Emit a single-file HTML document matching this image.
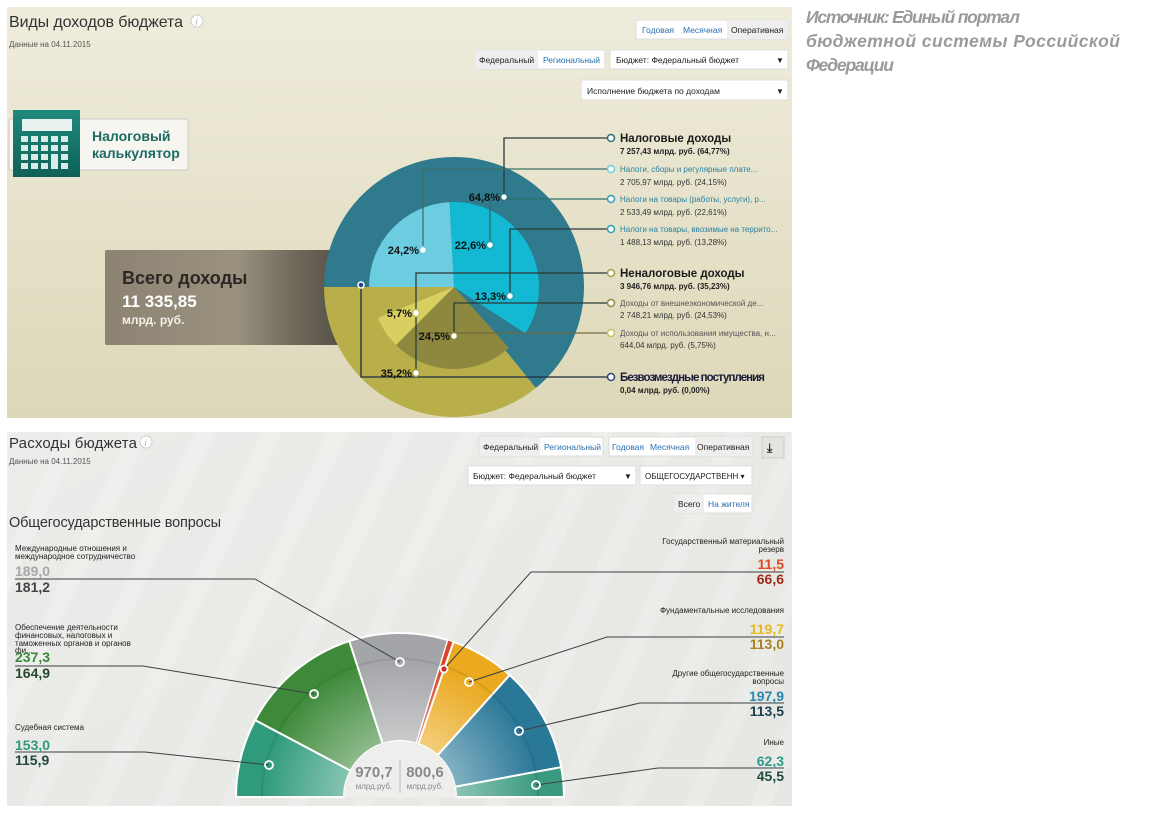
<!DOCTYPE html>
<html><head><meta charset="utf-8"><style>
html,body{margin:0;padding:0;background:#fff;}
svg{display:block;font-family:"Liberation Sans Narrow","Liberation Sans",sans-serif;}
</style></head><body>
<svg width="1153" height="816" viewBox="0 0 1153 816" xmlns="http://www.w3.org/2000/svg">
<defs>
<linearGradient id="bgTop" x1="0" y1="0" x2="0" y2="1"><stop offset="0" stop-color="#efecdc"/><stop offset="1" stop-color="#ddd8b8"/></linearGradient>
<linearGradient id="bgBot" x1="0" y1="0" x2="1" y2="1"><stop offset="0" stop-color="#ececea"/><stop offset="1" stop-color="#e6e7e2"/></linearGradient>
<pattern id="stripes" width="60" height="60" patternUnits="userSpaceOnUse" patternTransform="rotate(25)"><rect width="18" height="60" fill="#ffffff" opacity="0.18"/></pattern>
<linearGradient id="totBox" x1="0" y1="0" x2="1" y2="0"><stop offset="0" stop-color="#8c8373"/><stop offset="0.55" stop-color="#9a917f"/><stop offset="0.8" stop-color="#6e6759"/><stop offset="1" stop-color="#555046"/></linearGradient>
<linearGradient id="calc" x1="0" y1="0" x2="0" y2="1"><stop offset="0" stop-color="#1f8a7c"/><stop offset="1" stop-color="#0f6057"/></linearGradient>
<radialGradient id="hubG" cx="400" cy="797" r="164" gradientUnits="userSpaceOnUse"><stop offset="0.3" stop-color="#fff" stop-opacity="0.45"/><stop offset="0.85" stop-color="#fff" stop-opacity="0"/></radialGradient>
<clipPath id="clipTop"><rect x="7" y="7" width="785" height="411"/></clipPath>
</defs>

<!-- TOP PANEL -->
<rect x="7" y="7" width="785" height="411" fill="url(#bgTop)"/>
<text x="9" y="27" font-size="16" fill="#333" font-family="Liberation Sans,sans-serif" textLength="174">Виды доходов бюджета</text>
<circle cx="197" cy="21" r="6" fill="#fff" stroke="#ccc"/><text x="195.5" y="25" font-size="9" fill="#aaa" font-style="italic">i</text>
<text x="9" y="47" font-size="8" fill="#555">Данные на 04.11.2015</text>

<g font-size="8.5" font-family="Liberation Sans,sans-serif">
<rect x="636" y="20" width="152" height="19" fill="#fff" stroke="#ddd"/><rect x="727" y="20" width="61" height="19" fill="#eee"/>
<text x="642" y="33" fill="#2a6fb0">Годовая</text><text x="683" y="33" fill="#2a6fb0">Месячная</text><text x="731" y="33" fill="#222">Оперативная</text>
<rect x="475" y="50" width="130" height="19" fill="#fff" stroke="#ddd"/><rect x="475" y="50" width="63" height="19" fill="#eee"/>
<text x="479" y="63" fill="#222">Федеральный</text><text x="543" y="63" fill="#2a6fb0">Региональный</text>
<rect x="610" y="50" width="178" height="19" fill="#fff" stroke="#ddd"/><text x="616" y="63" fill="#222">Бюджет: Федеральный бюджет</text><text x="776" y="63" fill="#222" font-size="8">▼</text>
<rect x="581" y="80" width="207" height="20" fill="#fff" stroke="#ddd"/><text x="587" y="94" fill="#222">Исполнение бюджета по доходам</text><text x="776" y="94" fill="#222" font-size="8">▼</text>
</g>

<!-- calculator -->
<rect x="9" y="119" width="179" height="51" rx="2" fill="#f6f5f0" stroke="#ccc"/>
<rect x="13" y="110" width="67" height="67" fill="url(#calc)"/>
<rect x="22" y="119" width="50" height="12" fill="#e8f2f0"/>
<g fill="#d9ebe8">
<rect x="21" y="136" width="7" height="6"/><rect x="31" y="136" width="7" height="6"/><rect x="41" y="136" width="7" height="6"/><rect x="51" y="136" width="7" height="6"/><rect x="61" y="136" width="7" height="6"/>
<rect x="21" y="145" width="7" height="6"/><rect x="31" y="145" width="7" height="6"/><rect x="41" y="145" width="7" height="6"/><rect x="51" y="145" width="7" height="6"/><rect x="61" y="145" width="7" height="6"/>
<rect x="21" y="154" width="7" height="6"/><rect x="31" y="154" width="7" height="6"/><rect x="41" y="154" width="7" height="6"/><rect x="51" y="154" width="7" height="15"/><rect x="61" y="154" width="7" height="6"/>
<rect x="21" y="163" width="7" height="6"/><rect x="31" y="163" width="7" height="6"/><rect x="41" y="163" width="7" height="6"/><rect x="61" y="163" width="7" height="6"/>
</g>
<text x="92" y="141" font-size="14" font-weight="bold" fill="#1e6b64" font-family="Liberation Sans,sans-serif">Налоговый</text>
<text x="92" y="158" font-size="14" font-weight="bold" fill="#1e6b64" font-family="Liberation Sans,sans-serif">калькулятор</text>

<!-- total box -->
<rect x="105" y="250" width="240" height="95" rx="2" fill="url(#totBox)"/>
<text x="122" y="284" font-size="18" font-weight="bold" fill="#2a2724" font-family="Liberation Sans,sans-serif">Всего доходы</text>
<text x="122" y="307" font-size="17" font-weight="bold" fill="#fff" font-family="Liberation Sans,sans-serif">11 335,85</text>
<text x="122" y="324" font-size="12" font-weight="bold" fill="#f2f0ea" font-family="Liberation Sans,sans-serif">млрд. руб.</text>

<!-- pie -->
<g clip-path="url(#clipTop)">
<path d="M454 287 L324 287 A130 130 0 1 1 535.8 388 Z" fill="#2f7a8c"/>
<path d="M454 287 L535.8 388 A130 130 0 0 1 324 287 Z" fill="#b8af4b"/>
<path d="M454 287 L369 287 A85 85 0 0 1 449.6 202.1 Z" fill="#6dcde0"/>
<path d="M454 287 L449.6 202.1 A85 85 0 0 1 525.3 333.3 Z" fill="#13b8d2"/>
<path d="M454 287 L508.9 347.9 A82 82 0 0 1 396 345 Z" fill="#8e883f"/>
<path d="M454 287 L396 345 A82 82 0 0 1 378 317.7 Z" fill="#d8cf60"/>
</g>

<!-- leader lines -->
<g fill="none" stroke="#2b3a3a" stroke-width="1.3">
<polyline points="611,138 504,138 504,197"/>
<polyline points="611,169 423,169 423,250" stroke="#3d6f6a"/>
<polyline points="611,199 490,199 490,245" stroke="#2a6f70"/>
<polyline points="611,229 510,229 510,296"/>
<polyline points="611,273 416,273 416,373"/>
<polyline points="611,303 454,303 454,336"/>
<polyline points="611,333 416,333" stroke="#6f6a40"/>
<polyline points="611,377 361,377 361,285" stroke="#1f2a40"/>
</g>
<g stroke-width="1.5" fill="#fff">
<circle cx="611" cy="138" r="3.5" stroke="#2a6f80"/><circle cx="611" cy="169" r="3.5" stroke="#6dcde0"/><circle cx="611" cy="199" r="3.5" stroke="#2aa0b8"/><circle cx="611" cy="229" r="3.5" stroke="#2aa0b8"/>
<circle cx="611" cy="273" r="3.5" stroke="#a8a040"/><circle cx="611" cy="303" r="3.5" stroke="#8e883f"/><circle cx="611" cy="333" r="3.5" stroke="#c8c060"/><circle cx="611" cy="377" r="3.5" stroke="#2a4080"/>
<circle cx="504" cy="197" r="3.5" stroke="#2a6f80"/><circle cx="423" cy="250" r="3.5" stroke="#6dcde0"/><circle cx="490" cy="245" r="3.5" stroke="#2aa0b8"/><circle cx="510" cy="296" r="3.5" stroke="#2aa0b8"/>
<circle cx="416" cy="373" r="3.5" stroke="#a8a040"/><circle cx="454" cy="336" r="3.5" stroke="#8e883f"/><circle cx="416" cy="313" r="3.5" stroke="#c8c060"/>
<circle cx="361" cy="285" r="3" stroke="#fff" fill="#2a3f90"/>
</g>
<g font-size="11" font-weight="bold" fill="#111" text-anchor="end">
<text x="500" y="201">64,8%</text><text x="419" y="254">24,2%</text><text x="486" y="249">22,6%</text><text x="506" y="300">13,3%</text>
<text x="412" y="317">5,7%</text><text x="450" y="340">24,5%</text><text x="412" y="377">35,2%</text>
</g>
<g font-size="8" fill="#333">
<text x="620" y="142" font-size="11.5" font-weight="bold" fill="#1a1a1a">Налоговые доходы</text>
<text x="620" y="154" font-weight="bold" fill="#222">7 257,43 млрд. руб. (64,77%)</text>
<text x="620" y="172" fill="#2a80a0">Налоги, сборы и регулярные плате...</text><text x="620" y="185">2 705,97 млрд. руб. (24,15%)</text>
<text x="620" y="202" fill="#2a80a0">Налоги на товары (работы, услуги), р...</text><text x="620" y="215">2 533,49 млрд. руб. (22,61%)</text>
<text x="620" y="232" fill="#2a80a0">Налоги на товары, ввозимые на террито...</text><text x="620" y="245">1 488,13 млрд. руб. (13,28%)</text>
<text x="620" y="277" font-size="11.5" font-weight="bold" fill="#1a1a1a">Неналоговые доходы</text>
<text x="620" y="289" font-weight="bold" fill="#222">3 946,76 млрд. руб. (35,23%)</text>
<text x="620" y="306" fill="#555">Доходы от внешнеэкономической де...</text><text x="620" y="318">2 748,21 млрд. руб. (24,53%)</text>
<text x="620" y="336" fill="#555">Доходы от использования имущества, н...</text><text x="620" y="348">644,04 млрд. руб. (5,75%)</text>
<text x="620" y="381" font-size="11.5" font-weight="bold" fill="#1a1a3a" textLength="145">Безвозмездные поступления</text>
<text x="620" y="393" font-weight="bold" fill="#222">0,04 млрд. руб. (0,00%)</text>
</g>

<!-- source -->
<g font-family="Liberation Sans,sans-serif" font-size="17.5" font-style="italic" font-weight="bold" fill="#9a9a9a">
<text x="806" y="23" textLength="214">Источник: Единый портал</text>
<text x="806" y="47" textLength="314">бюджетной системы Российской</text>
<text x="806" y="71" textLength="88">Федерации</text>
</g>

<!-- BOTTOM PANEL -->
<rect x="7" y="432" width="785" height="374" fill="url(#bgBot)"/>
<rect x="7" y="432" width="785" height="374" fill="url(#stripes)"/>
<text x="9" y="448" font-size="15" fill="#333" font-family="Liberation Sans,sans-serif" textLength="128">Расходы бюджета</text>
<circle cx="146" cy="442" r="6" fill="#fff" stroke="#ccc"/><text x="144.5" y="446" font-size="9" fill="#aaa" font-style="italic">i</text>
<text x="9" y="464" font-size="8" fill="#555">Данные на 04.11.2015</text>

<g font-size="8.5" font-family="Liberation Sans,sans-serif">
<rect x="480" y="437" width="123" height="19" fill="#fff" stroke="#ddd"/><rect x="480" y="437" width="60" height="19" fill="#eee"/>
<text x="483" y="450" fill="#222">Федеральный</text><text x="544" y="450" fill="#2a6fb0">Региональный</text>
<rect x="609" y="437" width="143" height="19" fill="#fff" stroke="#ddd"/><rect x="695" y="437" width="57" height="19" fill="#eee"/>
<text x="612" y="450" fill="#2a6fb0">Годовая</text><text x="650" y="450" fill="#2a6fb0">Месячная</text><text x="697" y="450" fill="#222">Оперативная</text>
<rect x="762" y="437" width="22" height="21" fill="#e4e4e0" stroke="#ccc"/><text x="767" y="452" font-size="12" fill="#333" font-weight="bold">⤓</text>
<rect x="468" y="466" width="168" height="19" fill="#fff" stroke="#ddd"/><text x="473" y="479" fill="#222">Бюджет: Федеральный бюджет</text><text x="624" y="479" font-size="8" fill="#222">▼</text>
<rect x="640" y="466" width="112" height="19" fill="#fff" stroke="#ddd"/><text x="645" y="479" fill="#222" font-size="8">ОБЩЕГОСУДАРСТВЕНН ▾</text>
<rect x="674" y="494" width="78" height="19" fill="#fff" stroke="#ddd"/><rect x="674" y="494" width="30" height="19" fill="#eee"/>
<text x="678" y="507" fill="#222">Всего</text><text x="708" y="507" fill="#2a6fb0">На жителя</text>
</g>
<text x="9" y="527" font-size="14.5" fill="#333" font-family="Liberation Sans,sans-serif" textLength="212">Общегосударственные вопросы</text>

<!-- semi donut -->
<g stroke="#fff" stroke-width="2">
<path d="M236 797 A164 164 0 0 1 255.2 720.1 L350.6 770.7 A56 56 0 0 0 344 797 Z" fill="#2f9a7c"/>
<path d="M255.2 720.1 A164 164 0 0 1 349.3 641 L382.7 743.7 A56 56 0 0 0 350.6 770.7 Z" fill="#3e8a3a"/>
<path d="M349.3 641 A164 164 0 0 1 447.9 640.2 L416.4 743.5 A56 56 0 0 0 382.7 743.7 Z" fill="#a3a5a8"/>
<path d="M447.9 640.2 A164 164 0 0 1 453.5 641.9 L418.3 744 A56 56 0 0 0 416.4 743.5 Z" fill="#d8442a" stroke-width="0.8"/>
<path d="M453.5 641.9 A164 164 0 0 1 509.7 675.1 L437.5 755.4 A56 56 0 0 0 418.3 744 Z" fill="#eaa91e"/>
<path d="M509.7 675.1 A164 164 0 0 1 561.2 767.2 L455 786.8 A56 56 0 0 0 437.5 755.4 Z" fill="#2a7898"/>
<path d="M561.2 767.2 A164 164 0 0 1 564 797 L456 797 A56 56 0 0 0 455 786.8 Z" fill="#3a9a80"/>
</g>
<path d="M236 797 A164 164 0 0 1 564 797 Z" fill="url(#hubG)"/>
<path d="M262 797 A138 138 0 0 1 538 797" fill="none" stroke="#000" stroke-opacity="0.08" stroke-width="2"/>
<path d="M344 797 A56 56 0 0 1 456 797 Z" fill="#eeeeec"/>
<line x1="400" y1="760" x2="400" y2="793" stroke="#bbb"/>
<g font-size="15" font-weight="bold" fill="#888" text-anchor="middle">
<text x="374" y="777">970,7</text><text x="425" y="777">800,6</text>
<text x="374" y="789" font-size="8" font-weight="normal">млрд.руб.</text><text x="425" y="789" font-size="8" font-weight="normal">млрд.руб.</text>
</g>

<!-- expense leaders -->
<g fill="none" stroke="#3a4040" stroke-width="1">
<polyline points="15,579 255,579 400,662"/>
<polyline points="15,666 143,666 314,694"/>
<polyline points="15,752 145,752 269,765"/>
<polyline points="784,572 531,572 444,669"/>
<polyline points="784,637 607,637 469,682"/>
<polyline points="784,703 640,703 519,731"/>
<polyline points="784,768 658,768 536,785"/>
</g>
<g fill="none" stroke="#fff" stroke-width="1.8">
<circle cx="400" cy="662" r="4"/><circle cx="314" cy="694" r="4"/><circle cx="269" cy="765" r="4"/>
<circle cx="444" cy="669" r="3.5" fill="#c83020"/><circle cx="469" cy="682" r="4"/><circle cx="519" cy="731" r="4"/><circle cx="536" cy="785" r="4"/>
</g>

<g font-size="8" fill="#222">
<text x="15" y="551">Международные отношения и</text><text x="15" y="559">международное сотрудничество</text>
<text x="15" y="576" font-size="14" font-weight="bold" fill="#a8a8a8">189,0</text>
<text x="15" y="592" font-size="14" font-weight="bold" fill="#444">181,2</text>
<text x="15" y="630">Обеспечение деятельности</text><text x="15" y="638">финансовых, налоговых и</text><text x="15" y="646">таможенных органов и органов</text><text x="15" y="653">фи...</text>
<text x="15" y="662" font-size="14" font-weight="bold" fill="#3a8a3a">237,3</text>
<text x="15" y="678" font-size="14" font-weight="bold" fill="#254a2a">164,9</text>
<text x="15" y="730">Судебная система</text>
<text x="15" y="750" font-size="14" font-weight="bold" fill="#2f9a7c">153,0</text>
<text x="15" y="765" font-size="14" font-weight="bold" fill="#1f4a40">115,9</text>
</g>
<g font-size="8" fill="#222" text-anchor="end">
<text x="784" y="544">Государственный материальный</text><text x="784" y="552">резерв</text>
<text x="784" y="569" font-size="14" font-weight="bold" fill="#e04a20">11,5</text>
<text x="784" y="584" font-size="14" font-weight="bold" fill="#a02a1a">66,6</text>
<text x="784" y="613">Фундаментальные исследования</text>
<text x="784" y="634" font-size="14" font-weight="bold" fill="#e8b820">119,7</text>
<text x="784" y="649" font-size="14" font-weight="bold" fill="#a8821e">113,0</text>
<text x="784" y="676">Другие общегосударственные</text><text x="784" y="684">вопросы</text>
<text x="784" y="701" font-size="14" font-weight="bold" fill="#2a88b0">197,9</text>
<text x="784" y="716" font-size="14" font-weight="bold" fill="#1a3f50">113,5</text>
<text x="784" y="745">Иные</text>
<text x="784" y="766" font-size="14" font-weight="bold" fill="#2f9a8c">62,3</text>
<text x="784" y="781" font-size="14" font-weight="bold" fill="#1f4a40">45,5</text>
</g>
</svg>
</body></html>
